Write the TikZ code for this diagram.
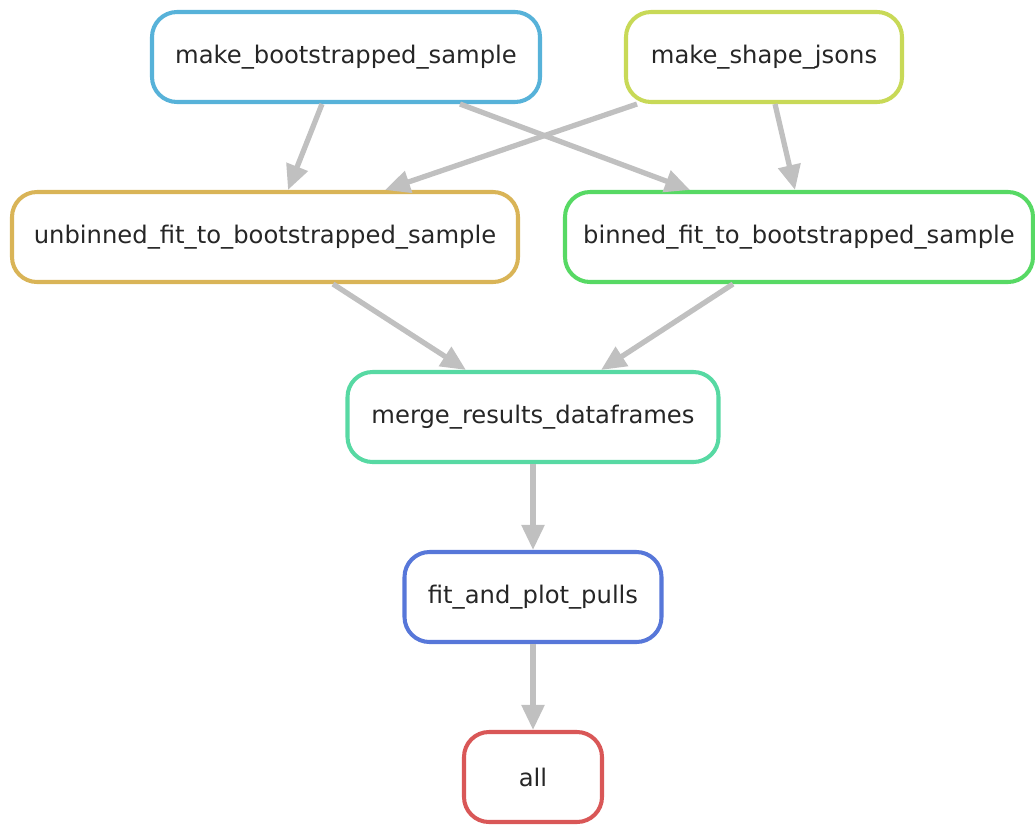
\documentclass[tikz,border=0pt]{standalone}
\usepackage{fontspec}
\setmainfont{DejaVu Sans}
\usetikzlibrary{arrows.meta}
\definecolor{edgegray}{RGB}{192,192,192}
\definecolor{rulebootstrap}{RGB}{87,178,217}
\definecolor{ruleshape}{RGB}{200,217,87}
\definecolor{ruleunbinned}{RGB}{217,180,87}
\definecolor{rulebinned}{RGB}{87,217,100}
\definecolor{rulemerge}{RGB}{87,217,163}
\definecolor{rulepulls}{RGB}{87,119,217}
\definecolor{ruleall}{RGB}{217,87,87}
\tikzset{
  {rule/.style} ={draw=#1, line width=2.3pt, rounded corners=0.5cm,
                  minimum height=1.8cm, fill=white, text=black!85,
                  font=\fontsize{13.8}{16}\selectfont},
  {edge/.style} ={draw, line width=3pt, edgegray,
                  -{Triangle[length=0.5cm,width=0.44cm]}},
}
\begin{document}
\begin{tikzpicture}
    \useasboundingbox (0,0) rectangle (20.7,-16.62);
    % rules
    \node[rule=rulebootstrap, minimum width=7.76cm] (bootstrap) at (6.92,-1.14) {make\_bootstrapped\_sample};
    \node[rule=ruleshape, minimum width=5.52cm] (shapes) at (15.28,-1.14) {make\_shape\_jsons};
    \node[rule=ruleunbinned, minimum width=10.12cm] (unbinned) at (5.30,-4.74) {unbinned\_fit\_to\_bootstrapped\_sample};
    \node[rule=rulebinned, minimum width=9.36cm] (binned) at (15.98,-4.74) {binned\_fit\_to\_bootstrapped\_sample};
    \node[rule=rulemerge, minimum width=7.42cm] (merge) at (10.66,-8.34) {merge\_results\_dataframes};
    \node[rule=rulepulls, minimum width=5.14cm] (pulls) at (10.66,-11.94) {fit\_and\_plot\_pulls};
    \node[rule=ruleall, minimum width=2.76cm] (all) at (10.66,-15.54) {all};
    % dependencies
    \draw[edge] ([xshift=-0.48cm]bootstrap.south) -- ([xshift=0.46cm]unbinned.north);
    \draw[edge] ([xshift=2.28cm]bootstrap.south) -- ([xshift=-2.18cm]binned.north);
    \draw[edge] ([xshift=-2.54cm]shapes.south) -- ([xshift=2.4cm]unbinned.north);
    \draw[edge] ([xshift=0.22cm]shapes.south) -- ([xshift=-0.08cm]binned.north);
    \draw[edge] ([xshift=1.36cm]unbinned.south) -- ([xshift=-1.34cm]merge.north);
    \draw[edge] ([xshift=-1.32cm]binned.south) -- ([xshift=1.36cm]merge.north);
    \draw[edge] (merge) -- (pulls);
    \draw[edge] (pulls) -- (all);
\end{tikzpicture}
\end{document}
